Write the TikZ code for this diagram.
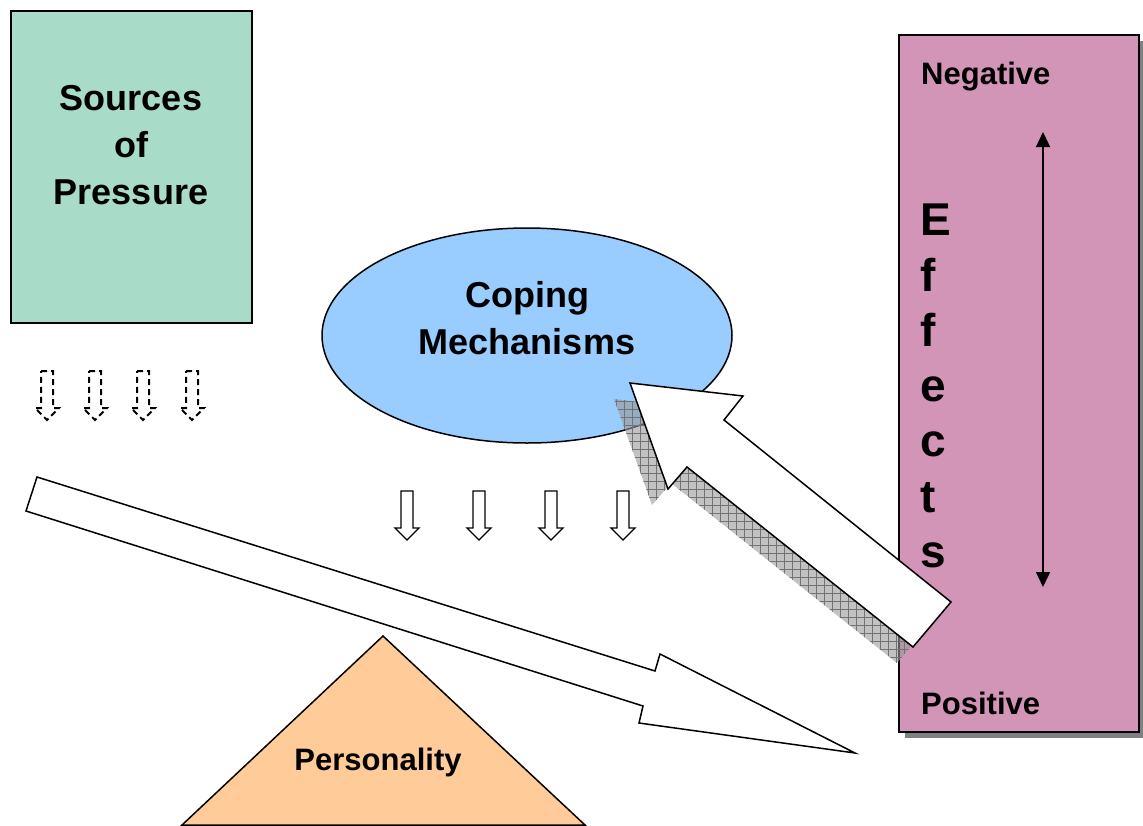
\documentclass[tikz,border=0pt]{standalone}
\usepackage{fontspec}
\setmainfont{Liberation Sans}
\usetikzlibrary{shapes.geometric,arrows.meta,patterns.meta}
\definecolor{srcgreen}{RGB}{168,220,200}
\definecolor{effpink}{RGB}{210,148,183}
\definecolor{copeblue}{RGB}{153,204,255}
\definecolor{perorange}{RGB}{255,204,153}
\tikzset{
  outline/.style={draw=black, line width=1.5pt},
  bigtext/.style={font=\bfseries\fontsize{36}{47}\selectfont, align=center, inner sep=0pt},
  midtext/.style={font=\bfseries\fontsize{31}{37}\selectfont, inner sep=0pt},
  solidarrow/.pic={\draw[line width=1.3pt, line join=miter] (-6,0) -- (6,0) -- (6,37) -- (12,37) -- (0,49) -- (-12,37) -- (-6,37) -- cycle;},
  dashedarrow/.pic={\draw[line width=2pt, dash pattern=on 6pt off 4pt] (-6,0) -- (6,0) -- (6,37) -- (12,37) -- (0,49) -- (-12,37) -- (-6,37) -- cycle;}
}
\begin{document}
\begin{tikzpicture}[x=1pt,y=-1pt]
\useasboundingbox (0,0) rectangle (1143,825);
% Sources of pressure
\draw[outline, fill=srcgreen] (11,11) rectangle (252,323);
\node[bigtext] (srctext) at (131,145) {Sources\\of\\Pressure};
% Coping mechanisms
\node[ellipse, outline, fill=copeblue, minimum width=410pt, minimum height=215pt, inner sep=0pt] (cope) at (527,335.5) {};
\node[bigtext] (copetext) at (527,318) {Coping\\Mechanisms};
% Effects box with shadow
\fill[black!50] (905,41) rectangle (1145,738);
\draw[outline, fill=effpink] (899,35) rectangle (1139,732);
\node[midtext, anchor=west] (neg) at (921,77) {Negative};
\node[midtext, anchor=west] (pos) at (921,703) {Positive};
\node[font=\bfseries\fontsize{46}{55.3}\selectfont, align=left, inner sep=0pt, anchor=west] (effects) at (920,386) {E\\f\\f\\e\\c\\t\\s};
\coordinate (ua) at (1043,132);
\coordinate (da) at (1043,587);
\draw[line width=1.3pt, {Triangle[length=15pt,width=14pt]}-{Triangle[length=15pt,width=14pt]}] (ua) -- (da);
% Personality triangle
\draw[outline, fill=perorange] (383,636) -- (585,825) -- (182,825) -- cycle;
\node[midtext] (pers) at (378,762) {Personality};
% long arrow
\draw[outline, fill=white, line join=miter] (37,477) -- (655,671) -- (660,654) -- (855,753) -- (639,723) -- (643,706) -- (26,511) -- cycle;
% shadow of feedback arrow
\begin{scope}[shift={(-16,16)}]
\fill[black!40, fill opacity=0.6] (630,383) -- (743,396) -- (724,420) -- (951,602) -- (913,647) -- (687,467) -- (668,489) -- cycle;
\fill[pattern={Hatch[distance=8pt,angle=0,line width=0.6pt]}, pattern color=black!55] (630,383) -- (743,396) -- (724,420) -- (951,602) -- (913,647) -- (687,467) -- (668,489) -- cycle;
\end{scope}
% feedback arrow
\draw[outline, fill=white, line join=miter] (630,383) -- (743,396) -- (724,420) -- (951,602) -- (913,647) -- (687,467) -- (668,489) -- cycle;
% small dashed arrows
\foreach \x in {47,95,143,192} {
  \pic at (\x,371) {dashedarrow};
}
% small solid arrows
\foreach \x in {407,479,551,623} {
  \pic at (\x,491) {solidarrow};
}
\end{tikzpicture}
\end{document}
